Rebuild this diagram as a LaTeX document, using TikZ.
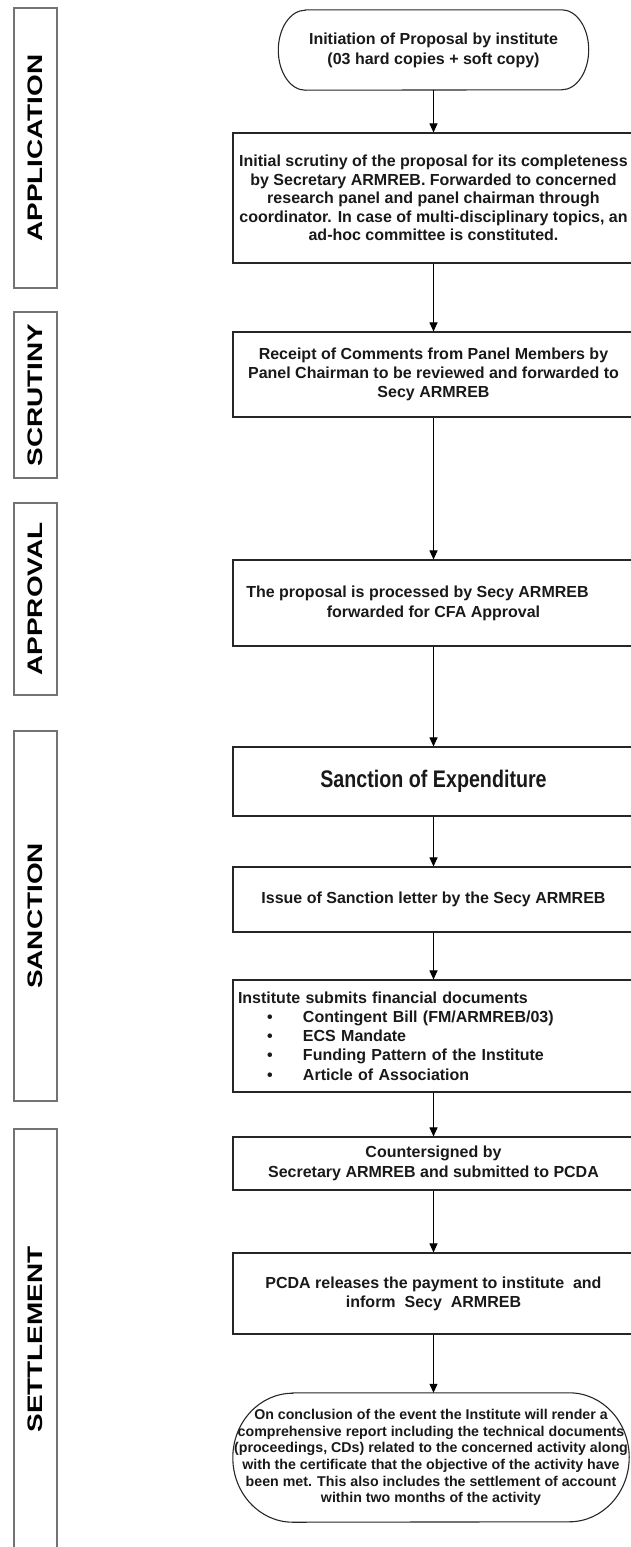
\documentclass[tikz,border=0pt]{standalone}
\usepackage{fontspec}
\setmainfont{Liberation Sans}
\newfontfamily\narrowfont[FakeStretch=0.82]{Liberation Sans}
\newfontfamily\widelabelfont[FakeStretch=1.33]{Liberation Sans}
\usetikzlibrary{arrows.meta}
\begin{document}
\begin{tikzpicture}[x=1pt,y=1pt,
  flowbox/.style={draw=black!85,line width=1.1pt,rectangle,minimum width=401pt,inner sep=0pt,
    align=center,font=\fontsize{16}{18.8}\selectfont\bfseries,text=black!90},
  termtext/.style={rectangle,inner sep=0pt,align=center,text=black!90},
  termline/.style={draw=black!85,line width=1.1pt},
  phase/.style={draw=black!55,line width=1.6pt,rotate=90,minimum height=43pt,inner sep=0pt,
    font=\widelabelfont\fontsize{21}{24}\selectfont\bfseries},
  flow/.style={-{Triangle[length=9pt,width=8pt]},line width=1pt,black}
]
\useasboundingbox (0,0) rectangle (630,-1547);

% phase labels
\node[phase,minimum width=280pt] (pApp) at (35.5,-148) {APPLICATION};
\node[phase,minimum width=166pt] (pScr) at (35.5,-395) {SCRUTINY};
\node[phase,minimum width=192pt] (pApr) at (35.5,-599) {APPROVAL};
\node[phase,minimum width=370pt] (pSan) at (35.5,-916) {SANCTION};
\node[phase,minimum width=421pt] (pSet) at (35.5,-1339.5) {SETTLEMENT};

% start terminal
\node[termtext,minimum width=310pt,minimum height=80pt,font=\fontsize{16}{20}\selectfont\bfseries] (start) at (433.5,-50)
  {Initiation of Proposal by institute\\(03 hard copies + soft copy)};
\draw[termline] ([xshift=27pt]start.north west) -- ([xshift=-27pt]start.north east)
  arc[start angle=90,end angle=-90,x radius=27pt,y radius=40pt]
  -- ([xshift=27pt]start.south west)
  arc[start angle=270,end angle=90,x radius=27pt,y radius=40pt] -- cycle;

% process boxes
\node[flowbox,minimum height=130pt,font=\fontsize{16}{18.5}\selectfont\bfseries] (b2) at (433.5,-198)
  {Initial scrutiny of the proposal for its completeness\\
   by Secretary ARMREB. Forwarded to concerned\\
   research panel and panel chairman through\\
   coordinator. In case of multi-disciplinary topics, an\\
   ad-hoc committee is constituted.};
\node[flowbox,minimum height=85pt] (b3) at (433.5,-374.5)
  {Receipt of Comments from Panel Members by\\
   Panel Chairman to be reviewed and forwarded to\\
   Secy ARMREB};
\node[flowbox,minimum height=86pt,font=\fontsize{16}{20}\selectfont\bfseries] (b4) at (433.5,-603)
  {The proposal is processed by Secy ARMREB\hspace*{32pt}\\
   forwarded for CFA Approval};
\node[flowbox,minimum height=69pt,font=\narrowfont\fontsize{24}{28}\selectfont\bfseries] (b5) at (433.5,-781.5)
  {Sanction of Expenditure};
\node[flowbox,minimum height=65pt] (b6) at (433.5,-899.5)
  {Issue of Sanction letter by the Secy ARMREB};
\node[flowbox,minimum height=112pt,align=left,text width=391pt,inner xsep=5pt,font=\fontsize{16}{19.2}\selectfont\bfseries] (b7) at (433.5,-1036)
  {Institute submits financial documents\\
   \hspace*{29pt}\makebox[36pt][l]{\textbullet}Contingent Bill (FM/ARMREB/03)\\
   \hspace*{29pt}\makebox[36pt][l]{\textbullet}ECS Mandate\\
   \hspace*{29pt}\makebox[36pt][l]{\textbullet}Funding Pattern of the Institute\\
   \hspace*{29pt}\makebox[36pt][l]{\textbullet}Article of Association};
\node[flowbox,minimum height=53pt,font=\fontsize{16}{20}\selectfont\bfseries] (b8) at (433.5,-1163.5)
  {Countersigned by\\Secretary ARMREB and submitted to PCDA};
\node[flowbox,minimum height=81pt,font=\fontsize{16}{19}\selectfont\bfseries] (b9) at (433.5,-1293.5)
  {PCDA releases the payment to institute\ \ and\\inform\ \ Secy\ \ ARMREB};

% end terminal
\node[termtext,minimum width=396pt,minimum height=129pt,font=\fontsize{14.2}{16.7}\selectfont\bfseries] (end) at (431,-1457.5)
  {On conclusion of the event the Institute will render a\\
   comprehensive report including the technical documents\\
   (proceedings, CDs) related to the concerned activity along\\
   with the certificate that the objective of the activity have\\
   been met. This also includes the settlement of account\\
   within two months of the activity};
\draw[termline] ([xshift=60pt]end.north west) -- ([xshift=-60pt]end.north east)
  arc[start angle=90,end angle=-90,x radius=60pt,y radius=64.5pt]
  -- ([xshift=60pt]end.south west)
  arc[start angle=270,end angle=90,x radius=60pt,y radius=64.5pt] -- cycle;

% connectors
\draw[flow] (start.south) -- (b2.north);
\draw[flow] (b2.south) -- (b3.north);
\draw[flow] (b3.south) -- (b4.north);
\draw[flow] (b4.south) -- (b5.north);
\draw[flow] (b5.south) -- (b6.north);
\draw[flow] (b6.south) -- (b7.north);
\draw[flow] (b7.south) -- (b8.north);
\draw[flow] (b8.south) -- (b9.north);
\draw[flow] (b9.south) -- (b9.south |- end.north);
\end{tikzpicture}
\end{document}
